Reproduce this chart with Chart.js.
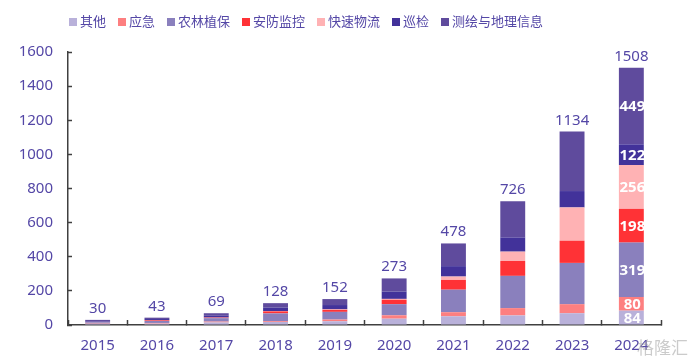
<!DOCTYPE html>
<html>
<head>
<meta charset="utf-8">
<script src="https://cdn.jsdelivr.net/npm/chart.js@4/dist/chart.umd.min.js"></script>
<style>
  html, body { margin: 0; padding: 0; background: #fff; }
  #wrap { width: 692px; height: 364px; }
</style>
</head>
<body>
<div id="wrap"><canvas id="chart"></canvas></div>
<script>
const years = ['2015', '2016', '2017', '2018', '2019', '2020', '2021', '2022', '2023', '2024'];
const totals = [30, 43, 69, 128, 152, 273, 478, 726, 1134, 1508];

// bottom -> top of each stack
const other     = [6, 8, 15, 18, 22, 37, 51, 56, 69, 84];
const emergency = [2, 4, 5, 5, 10, 20, 24, 43, 53, 80];
const farming   = [8, 12, 20, 45, 45, 65, 132, 189, 242, 319];
const security  = [1, 4, 3, 12, 12, 26, 57, 87, 130, 198];
const logistics = [1, 1, 1, 2, 3, 5, 20, 55, 195, 256];
const patrol    = [4, 6, 10, 20, 25, 43, 61, 83, 96, 122];
const mapping   = [8, 8, 15, 26, 35, 77, 133, 213, 349, 449];

const seriesNames = ['其他', '应急', '农林植保', '安防监控', '快速物流', '巡检', '测绘与地理信息'];
const seriesData = [other, emergency, farming, security, logistics, patrol, mapping];
const seriesColors = ['#b9b1da', '#fd7f80', '#8a80bd', '#ff3236', '#ffb2b4', '#42329a', '#5f4b9d'];

const FONT = "'Noto Sans', 'Noto Sans CJK SC', sans-serif";
const TEXT = '#5447a6';
const AXIS = '#404040';

Chart.defaults.font.family = FONT;

// totals above bars + white values inside the last bar
const labelsPlugin = {
  id: 'barLabels',
  afterDatasetsDraw(chart) {
    const ctx = chart.ctx;
    const xs = chart.scales.x, ys = chart.scales.y;
    ctx.save();
    ctx.font = `15px ${FONT}`;
    ctx.fillStyle = TEXT;
    ctx.textAlign = 'center';
    ctx.textBaseline = 'alphabetic';
    totals.forEach((t, i) => {
      ctx.fillText(String(t), xs.getPixelForValue(i), ys.getPixelForValue(t) - 7);
    });
    const last = years.length - 1;
    ctx.font = `bold 15px ${FONT}`;
    ctx.fillStyle = '#ffffff';
    ctx.textBaseline = 'middle';
    chart.data.datasets.forEach((ds, di) => {
      const bar = chart.getDatasetMeta(di).data[last];
      ctx.fillText(String(ds.data[last]), bar.x + 1, (bar.y + bar.base) / 2 + 1);
    });
    ctx.restore();
  }
};

// legend row at the top
const legendPlugin = {
  id: 'topLegend',
  afterDraw(chart) {
    const ctx = chart.ctx;
    ctx.save();
    ctx.font = `13px ${FONT}`;
    ctx.textBaseline = 'middle';
    ctx.textAlign = 'left';
    let x = 69;
    const y = 22;
    seriesNames.forEach((name, i) => {
      ctx.fillStyle = seriesColors[i];
      ctx.fillRect(x, y - 4, 8, 8);
      ctx.fillStyle = TEXT;
      ctx.fillText(name, x + 11, y);
      x += 11 + ctx.measureText(name).width + 12;
    });
    // watermark
    ctx.font = `17px ${FONT}`;
    ctx.fillStyle = 'rgba(160,160,160,0.55)';
    ctx.textAlign = 'right';
    ctx.fillText('格隆汇', 688, 349);
    ctx.restore();
  }
};

new Chart(document.getElementById('chart'), {
  type: 'bar',
  data: {
    labels: years,
    datasets: seriesNames.map((name, i) => ({
      label: name,
      data: seriesData[i],
      backgroundColor: seriesColors[i],
      borderWidth: 0,
      barPercentage: 0.42,
      categoryPercentage: 1
    }))
  },
  options: {
    responsive: true,
    maintainAspectRatio: false,
    animation: false,
    layout: {
      padding: { top: 52, right: 31, bottom: 0, left: 0 }
    },
    plugins: {
      legend: { display: false },
      tooltip: { enabled: false }
    },
    scales: {
      x: {
        stacked: true,
        grid: {
          display: true,
          drawOnChartArea: false,
          offset: true,
          tickLength: -5,
          tickColor: AXIS,
          tickWidth: 1.5
        },
        border: { color: AXIS, width: 1.5 },
        ticks: { color: TEXT, font: { size: 15 }, padding: 17 },
        afterFit(scale) { scale.height = 39; }
      },
      y: {
        stacked: true,
        min: 0,
        max: 1600,
        grid: {
          display: true,
          drawOnChartArea: false,
          tickLength: -4,
          tickColor: AXIS,
          tickWidth: 1.5
        },
        border: { color: AXIS, width: 1.5 },
        ticks: {
          stepSize: 200,
          color: TEXT,
          font: { size: 15 },
          padding: 19,
          callback: (v) => String(v)
        },
        afterFit(scale) { scale.width = 68; }
      }
    }
  },
  plugins: [labelsPlugin, legendPlugin]
});
</script>
</body>
</html>
